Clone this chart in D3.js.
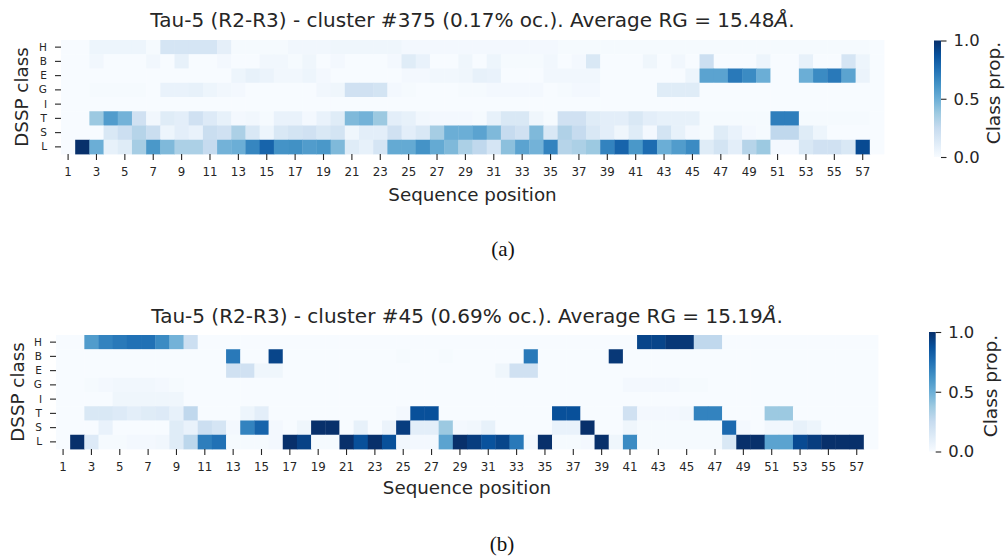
<!DOCTYPE html>
<html>
<head>
<meta charset="utf-8">
<script src="https://cdn.jsdelivr.net/npm/d3@7"></script>
<style>
  body { margin: 0; background: #fff; }
  svg { display: block; }
</style>
</head>
<body>
<svg id="fig" width="1005" height="556"></svg>
<script>
// DSSP classes (rows) and sequence positions (columns)
const dsspClasses = ["H", "B", "E", "G", "I", "T", "S", "L"];
const positions = [1, 2, 3, 4, 5, 6, 7, 8, 9, 10, 11, 12, 13, 14, 15, 16, 17, 18, 19, 20,
  21, 22, 23, 24, 25, 26, 27, 28, 29, 30, 31, 32, 33, 34, 35, 36, 37, 38, 39, 40,
  41, 42, 43, 44, 45, 46, 47, 48, 49, 50, 51, 52, 53, 54, 55, 56, 57, 58];
const positionTicks = [1, 3, 5, 7, 9, 11, 13, 15, 17, 19, 21, 23, 25, 27, 29,
  31, 33, 35, 37, 39, 41, 43, 45, 47, 49, 51, 53, 55, 57];
const colorbarTicks = [0, 0.5, 1];

// Blues colormap control colours
const blues = ["#f7fbff", "#deebf7", "#c6dbef", "#9ecae1", "#6baed6",
  "#4292c6", "#2171b5", "#08519c", "#08306b"];

// Cluster #375: class proportion per position
const c375_H = [0, 0, .05, .05, .05, .05, .01, .17, .17, .17,
  .17, .09, .01, .01, .01, .01, .03, .03, .03, .04,
  .04, .04, .04, .04, .02, .02, .02, .02, .02, .02,
  .02, .02, .02, .02, .02, .01, .01, .01, .01, .01,
  .01, .01, .01, .01, .01, .01, .01, .01, .01, .01,
  .01, .01, .01, .01, .01, .01, .01, 0];
const c375_B = [0, 0, .03, 0, 0, 0, .03, 0, .08, 0,
  0, .02, 0, 0, .03, .03, .01, .04, 0, .02,
  0, 0, 0, .02, .12, .07, 0, 0, .04, 0,
  .05, .01, .01, .01, .03, 0, .02, .15, 0, 0,
  0, .04, 0, .03, 0, .22, 0, 0, 0, .05,
  0, 0, .08, 0, 0, .17, .05, 0];
const c375_E = [0, 0, 0, 0, 0, 0, 0, 0, 0, 0,
  0, 0, .05, .08, .06, .03, .03, .05, .02, 0,
  0, 0, 0, 0, .02, .02, .03, .03, .04, .08,
  .07, 0, 0, 0, .03, .03, .03, .03, 0, 0,
  0, 0, 0, 0, .05, .55, .55, .72, .65, .5,
  0, 0, .5, .65, .72, .55, .06, 0];
const c375_G = [0, 0, .01, .01, .01, .01, 0, .07, .07, .08,
  .05, .03, .02, 0, 0, 0, 0, 0, .03, .04,
  .2, .2, .18, .02, .01, 0, 0, 0, .01, .01,
  .02, .02, .02, .02, 0, .01, .02, .02, 0, 0,
  0, 0, .12, .12, .12, 0, 0, 0, 0, 0,
  0, 0, 0, 0, 0, 0, 0, 0];
const c375_I = [0, 0, 0, 0, 0, 0, 0, 0, 0, 0,
  0, 0, 0, 0, 0, 0, 0, 0, 0, 0,
  0, 0, 0, 0, 0, 0, 0, 0, 0, 0,
  0, 0, 0, 0, 0, 0, 0, 0, 0, 0,
  0, 0, 0, 0, 0, 0, 0, 0, 0, 0,
  0, 0, 0, 0, 0, 0, 0, 0];
const c375_T = [0, 0, .38, .58, .48, .2, .03, .12, .1, .2,
  .13, .08, .02, .03, .01, .07, .07, .02, .07, .12,
  .45, .48, .38, .1, .08, .03, .02, .02, .02, .01,
  .08, .15, .15, .04, .01, .2, .2, .12, .1, .1,
  .15, .1, .08, .08, .08, .01, .01, .01, .01, .01,
  .7, .7, .01, .01, .01, .01, .01, 0];
const c375_S = [0, 0, 0, .15, .22, .3, .23, .05, .1, .07,
  .23, .2, .33, .15, .05, .15, .18, .2, .15, .18,
  .04, .1, .1, .2, .1, .15, .35, .5, .5, .55,
  .45, .25, .2, .45, .15, .32, .25, .15, .1, .04,
  .12, .02, .18, .08, .02, .01, .12, .07, .02, .01,
  .27, .27, .12, .05, 0, 0, 0, 0];
const c375_L = [0, 1, .5, .08, .12, .35, .6, .45, .33, .33,
  .25, .48, .5, .67, .8, .62, .63, .58, .6, .45,
  .12, .08, .17, .52, .52, .62, .52, .45, .33, .27,
  .17, .42, .55, .48, .68, .3, .33, .38, .68, .8,
  .6, .77, .5, .58, .65, .12, .18, .1, .3, .38,
  .02, .02, .15, .2, .2, .15, .9, 0];

// Cluster #45: class proportion per position
const c45_H = [0, 0, .58, .68, .72, .75, .75, .65, .48, .22,
  0, 0, 0, 0, 0, 0, 0, 0, 0, 0,
  0, 0, 0, 0, 0, 0, 0, 0, 0, 0,
  0, 0, 0, 0, 0, 0, 0, 0, 0, 0,
  0, .92, .92, .97, .97, .27, .27, 0, 0, 0,
  0, 0, 0, 0, 0, 0, 0, 0];
const c45_B = [0, 0, 0, 0, 0, 0, 0, 0, 0, 0,
  0, 0, .72, 0, 0, .92, 0, 0, 0, 0,
  0, 0, 0, 0, .01, 0, 0, .01, 0, 0,
  0, 0, 0, .72, 0, 0, 0, 0, 0, .97,
  0, 0, 0, 0, 0, 0, 0, 0, 0, 0,
  0, 0, 0, 0, 0, 0, 0, 0];
const c45_E = [0, 0, 0, 0, 0, 0, 0, 0, 0, 0,
  0, 0, .2, .2, .04, .04, 0, 0, 0, 0,
  0, 0, 0, 0, 0, 0, 0, 0, 0, 0,
  0, .04, .2, .2, 0, 0, 0, 0, 0, 0,
  0, 0, 0, 0, 0, 0, 0, 0, 0, 0,
  0, 0, 0, 0, 0, 0, 0, 0];
const c45_G = [0, 0, .01, .02, .03, .03, .03, .02, .01, 0,
  0, 0, 0, 0, 0, 0, 0, 0, 0, 0,
  0, 0, 0, 0, 0, 0, 0, 0, 0, 0,
  0, 0, 0, 0, 0, 0, 0, 0, 0, 0,
  .02, .02, .02, .02, .01, .01, 0, 0, 0, 0,
  0, 0, 0, 0, 0, 0, 0, 0];
const c45_I = [0, 0, 0, 0, .04, .04, .04, .04, .04, 0,
  0, 0, 0, 0, 0, 0, 0, 0, 0, 0,
  0, 0, 0, 0, 0, 0, 0, 0, 0, 0,
  0, 0, 0, 0, 0, 0, 0, 0, 0, 0,
  0, 0, 0, 0, 0, 0, 0, 0, 0, 0,
  0, 0, 0, 0, 0, 0, 0, 0];
const c45_T = [0, 0, .15, .15, .13, .1, .12, .13, .08, .27,
  0, 0, 0, .05, .1, 0, 0, 0, 0, 0,
  0, 0, 0, 0, .02, .88, .88, 0, 0, 0,
  0, 0, 0, 0, 0, .88, .88, 0, 0, 0,
  .2, .02, .02, .02, .03, .68, .68, 0, 0, 0,
  .38, .38, 0, 0, 0, 0, 0, 0];
const c45_S = [0, 0, 0, .07, 0, 0, 0, 0, .12, .07,
  .22, .17, .02, .68, .8, .02, 0, .04, 1, 1,
  0, .08, 0, .06, .95, .1, .1, .38, .02, .03,
  .08, 0, 0, 0, 0, .07, .07, 1, 0, 0,
  .04, .01, .01, .01, .01, .01, .01, .78, .02, 0,
  .03, .03, .08, .05, 0, 0, 0, 0];
const c45_L = [0, 1, .13, .01, .01, .02, .02, .03, .12, .28,
  .7, .75, .01, .01, .01, .02, 1, .93, .01, .01,
  1, .88, 1, .88, .03, .02, .02, .55, 1, .95,
  .87, .92, .72, .02, 1, .01, .01, .02, 1, .04,
  .65, .01, .01, .01, .01, .01, .01, .15, 1, 1,
  .55, .55, .9, .95, 1, 1, 1, 0];

const panels = [
  {
    title: "Tau-5 (R2-R3) - cluster #375 (0.17% oc.). Average RG = 15.48",
    caption: "(a)",
    rows: { H: c375_H, B: c375_B, E: c375_E, G: c375_G, I: c375_I, T: c375_T, S: c375_S, L: c375_L },
    box: { left: 61, right: 884, top: 40, bottom: 154 },
    titleY: 26.5, xLabelY: 200.7, yLabelX: 28.3,
    cbar: { x: 934, w: 7, top: 40.5, bottom: 157, labelX: 1000, labelY: 93 },
    captionPos: [503, 256]
  },
  {
    title: "Tau-5 (R2-R3) - cluster #45 (0.69% oc.). Average RG = 15.19",
    caption: "(b)",
    rows: { H: c45_H, B: c45_B, E: c45_E, G: c45_G, I: c45_I, T: c45_T, S: c45_S, L: c45_L },
    box: { left: 56, right: 878, top: 335, bottom: 449 },
    titleY: 322.5, xLabelY: 494, yLabelX: 24,
    cbar: { x: 929, w: 6.7, top: 332, bottom: 451.5, labelX: 997, labelY: 386 },
    captionPos: [502, 551]
  }
];

const svg = d3.select("#fig");
svg.append("rect").attr("width", 1005).attr("height", 556).attr("fill", "#fff");

const color = d3.scaleLinear()
  .domain(blues.map((_, i) => i / (blues.length - 1)))
  .range(blues)
  .interpolate(d3.interpolateRgb)
  .clamp(true);

const FONT = "'DejaVu Sans', sans-serif";
const INK = "#262626";

// shared vertical gradient for the colour bars
const defs = svg.append("defs");
const grad = defs.append("linearGradient")
  .attr("id", "bluesGrad")
  .attr("x1", 0).attr("y1", 1).attr("x2", 0).attr("y2", 0);
grad.selectAll("stop").data(blues).join("stop")
  .attr("offset", (d, i) => i / (blues.length - 1))
  .attr("stop-color", d => d);

panels.forEach(p => {
  const g = svg.append("g");
  const { left, right, top, bottom } = p.box;

  const x = d3.scaleBand().domain(positions).range([left, right]);
  const y = d3.scaleBand().domain(dsspClasses).range([top, bottom]);

  // heatmap cells
  const cells = [];
  dsspClasses.forEach(c => {
    p.rows[c].forEach((v, i) => cells.push({ c, pos: positions[i], v }));
  });
  g.append("g").selectAll("rect").data(cells).join("rect")
    .attr("x", d => x(d.pos))
    .attr("y", d => y(d.c))
    .attr("width", x.bandwidth() + 0.4)
    .attr("height", y.bandwidth() + 0.4)
    .attr("fill", d => color(d.v));

  // x axis
  const xAxis = g.append("g")
    .attr("transform", `translate(0,${bottom})`)
    .call(d3.axisBottom(x).tickValues(positionTicks).tickSize(6).tickPadding(8));
  xAxis.select(".domain").remove();
  xAxis.selectAll("line").attr("stroke", INK).attr("stroke-width", 1.1);
  xAxis.selectAll("text").attr("font-family", FONT).attr("font-size", 11.8).attr("fill", INK);

  // y axis
  const yAxis = g.append("g")
    .attr("transform", `translate(${left},0)`)
    .call(d3.axisLeft(y).tickSize(6).tickPadding(8));
  yAxis.select(".domain").remove();
  yAxis.selectAll("line").attr("stroke", INK).attr("stroke-width", 1.1);
  yAxis.selectAll("text").attr("font-family", FONT).attr("font-size", 10.5).attr("fill", INK);

  // title
  const t = g.append("text")
    .attr("x", (left + right) / 2).attr("y", p.titleY)
    .attr("text-anchor", "middle")
    .attr("font-family", FONT).attr("font-size", 20).attr("fill", INK);
  t.append("tspan").text(p.title);
  t.append("tspan").attr("font-style", "italic").text("Å");
  t.append("tspan").text(".");

  // axis labels
  g.append("text")
    .attr("x", (left + right) / 2).attr("y", p.xLabelY)
    .attr("text-anchor", "middle")
    .attr("font-family", FONT).attr("font-size", 18.3).attr("fill", INK)
    .text("Sequence position");
  g.append("text")
    .attr("transform", `translate(${p.yLabelX},${(top + bottom) / 2}) rotate(-90)`)
    .attr("text-anchor", "middle")
    .attr("font-family", FONT).attr("font-size", 18.3).attr("fill", INK)
    .text("DSSP class");

  // colour bar
  const cb = p.cbar;
  g.append("rect")
    .attr("x", cb.x).attr("y", cb.top)
    .attr("width", cb.w).attr("height", cb.bottom - cb.top)
    .attr("fill", "url(#bluesGrad)");
  const cbScale = d3.scaleLinear().domain([0, 1]).range([cb.bottom, cb.top]);
  const cbAxis = g.append("g")
    .attr("transform", `translate(${cb.x + cb.w},0)`)
    .call(d3.axisRight(cbScale).tickValues(colorbarTicks).tickFormat(d3.format(".1f")).tickSize(5.5).tickPadding(7));
  cbAxis.select(".domain").remove();
  cbAxis.selectAll("line").attr("stroke", INK).attr("stroke-width", 1.1);
  cbAxis.selectAll("text").attr("font-family", FONT).attr("font-size", 16.4).attr("fill", INK);
  g.append("text")
    .attr("transform", `translate(${cb.labelX},${cb.labelY}) rotate(-90)`)
    .attr("text-anchor", "middle")
    .attr("font-family", FONT).attr("font-size", 18.5).attr("fill", INK)
    .text("Class prop.");

  // sub-figure caption
  g.append("text")
    .attr("x", p.captionPos[0]).attr("y", p.captionPos[1])
    .attr("text-anchor", "middle")
    .attr("font-family", "'Liberation Serif', 'DejaVu Serif', serif")
    .attr("font-size", 21).attr("fill", "#111")
    .text(p.caption);
});
</script>
</body>
</html>
